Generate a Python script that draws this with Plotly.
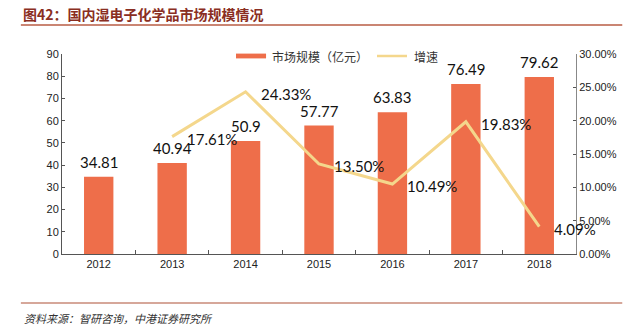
import plotly.graph_objects as go

years = ["2012", "2013", "2014", "2015", "2016", "2017", "2018"]
market_size = [34.81, 40.94, 50.9, 57.77, 63.83, 76.49, 79.62]
market_labels = ["34.81", "40.94", "50.9", "57.77", "63.83", "76.49", "79.62"]
growth = [None, 0.1761, 0.2433, 0.1350, 0.1049, 0.1983, 0.0409]
growth_labels = ["", "17.61%", "24.33%", "13.50%", "10.49%", "19.83%", "4.09%"]
series_names = ["市场规模（亿元）", "增速"]

BAR_COLOR = "#EE6E4A"
LINE_COLOR = "#F4D78C"
CJK = "Noto Sans CJK SC"
LAT = "Liberation Sans"

fig = go.Figure()
fig.add_trace(go.Bar(
    x=years, y=market_size, name=series_names[0],
    marker=dict(color=BAR_COLOR, line=dict(width=0)),
    width=0.4, showlegend=False,
))
fig.add_trace(go.Scatter(
    x=years, y=growth, name=series_names[1], yaxis="y2", mode="lines",
    line=dict(color=LINE_COLOR, width=3), showlegend=False,
))

annotations = []
for i, (v, t) in enumerate(zip(market_size, market_labels)):
    annotations.append(dict(x=i, y=v, xref="x", yref="y", text=t, showarrow=False,
                            yanchor="bottom", yshift=4,
                            font=dict(family="Lato", size=15, color="#111")))
for i, (v, t) in enumerate(zip(growth, growth_labels)):
    if v is None:
        continue
    annotations.append(dict(x=i, y=v, xref="x", yref="y2", text=t, showarrow=False,
                            xanchor="left", yanchor="middle", xshift=13, yshift=-2,
                            font=dict(family="Lato", size=15, color="#111")))

annotations.append(dict(x=-0.08, y=1.2, xref="paper", yref="paper",
                        text="<b>图42：国内湿电子化学品市场规模情况</b>", showarrow=False,
                        xanchor="left", yanchor="middle",
                        font=dict(family=CJK, size=14, color="#8A2E22")))
annotations.append(dict(x=-0.078, y=-0.32, xref="paper", yref="paper",
                        text="<i>资料来源：智研咨询，中港证券研究所</i>", showarrow=False,
                        xanchor="left", yanchor="middle",
                        font=dict(family=CJK, size=11, color="#333")))
# manual legend texts
annotations.append(dict(x=0.405, y=0.99, xref="paper", yref="paper", text=series_names[0],
                        showarrow=False, xanchor="left", yanchor="middle",
                        font=dict(family=CJK, size=12, color="#333")))
annotations.append(dict(x=0.68, y=0.99, xref="paper", yref="paper", text=series_names[1],
                        showarrow=False, xanchor="left", yanchor="middle",
                        font=dict(family=CJK, size=12, color="#333")))

shapes = [
    dict(type="line", xref="paper", yref="paper", x0=-0.08, x1=1.09, y0=1.145, y1=1.145,
         line=dict(color="#B85C44", width=1.5)),
    dict(type="line", xref="paper", yref="paper", x0=-0.08, x1=1.09, y0=-0.245, y1=-0.245,
         line=dict(color="#C98A78", width=1.5)),
    # manual legend swatches
    dict(type="rect", xref="paper", yref="paper", x0=0.3385, x1=0.397, y0=0.978, y1=1.002,
         fillcolor=BAR_COLOR, line=dict(width=0)),
    dict(type="line", xref="paper", yref="paper", x0=0.6128, x1=0.6712, y0=0.99, y1=0.99,
         line=dict(color=LINE_COLOR, width=2.5)),
]

fig.update_layout(
    width=631, height=332,
    margin=dict(l=62, r=55, t=54, b=78),
    plot_bgcolor="white", paper_bgcolor="white",
    showlegend=False,
    xaxis=dict(type="category", range=[-0.5, len(years) - 0.5], autorange=False,
               showline=True, linecolor="#555", linewidth=1,
               ticks="inside", tickson="boundaries", ticklen=4, tickcolor="#555",
               tickfont=dict(family=LAT, size=11, color="#222"), showgrid=False),
    yaxis=dict(range=[0, 90], dtick=10, showline=True, linecolor="#555", linewidth=1,
               ticks="inside", ticklen=3, tickcolor="#555", showgrid=False, zeroline=False,
               tickfont=dict(family=LAT, size=11, color="#222")),
    yaxis2=dict(range=[0, 0.30], dtick=0.05, tickformat=".2%", overlaying="y", side="right",
                showline=True, linecolor="#888", linewidth=1, ticks="inside", ticklen=3,
                tickcolor="#555", showgrid=False, zeroline=False,
                tickfont=dict(family=LAT, size=11, color="#222")),
    annotations=annotations,
    shapes=shapes,
)

fig.write_html("out.html")
